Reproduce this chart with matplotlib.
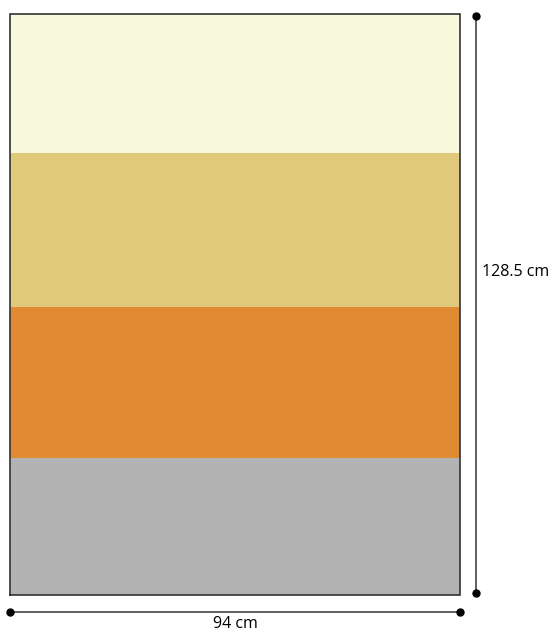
import matplotlib
matplotlib.use("Agg")
import matplotlib.pyplot as plt

# panel size in cm
WIDTH = 94
HEIGHT = 128.5

# bands from bottom to top (cm)
band_heights = [30.3, 33.4, 34.1, 30.7]
band_colors = ["#b3b3b3", "#e08b33", "#e0c97b", "#f8f8dc"]

labels = ["94 cm", "128.5 cm"]

fig = plt.figure(figsize=(5.51, 6.32), dpi=100)
# axes box in figure fractions so the panel lands where the reference puts it
ax = fig.add_axes([10 / 551, 37 / 632, 450 / 551, 581 / 632])
ax.set_xlim(0, WIDTH)
ax.set_ylim(0, HEIGHT)
ax.axis("off")

px_x = 450 / WIDTH   # pixels per cm
px_y = 581 / HEIGHT

bottom = 0
for h, c in zip(band_heights, band_colors):
    ax.bar(WIDTH / 2, h, width=WIDTH, bottom=bottom, color=c, linewidth=0)
    bottom += h

# outline
ax.plot([0, WIDTH, WIDTH, 0, 0], [0, 0, HEIGHT, HEIGHT, 0], color="#333333",
        lw=1.2, clip_on=False, solid_joinstyle="miter")

# vertical dimension line
vx = WIDTH + 16 / px_x
ax.plot([vx, vx], [2 / px_y, HEIGHT - 2 / px_y], color="#444444", lw=1.2,
        marker="o", markersize=5, markerfacecolor="black", markeredgecolor="black",
        clip_on=False)
ax.text(WIDTH + 22 / px_x, 323 / px_y, labels[1], fontsize=11.5,
        family="Open Sans", va="center", ha="left")

# horizontal dimension line
hy = -17 / px_y
ax.plot([0, WIDTH], [hy, hy], color="#444444", lw=1.2, marker="o", markersize=5,
        markerfacecolor="black", markeredgecolor="black", clip_on=False)
ax.text(WIDTH / 2, -29 / px_y, labels[0], fontsize=11.5, family="Open Sans",
        va="center", ha="center")

fig.savefig("out.png", dpi=100)
